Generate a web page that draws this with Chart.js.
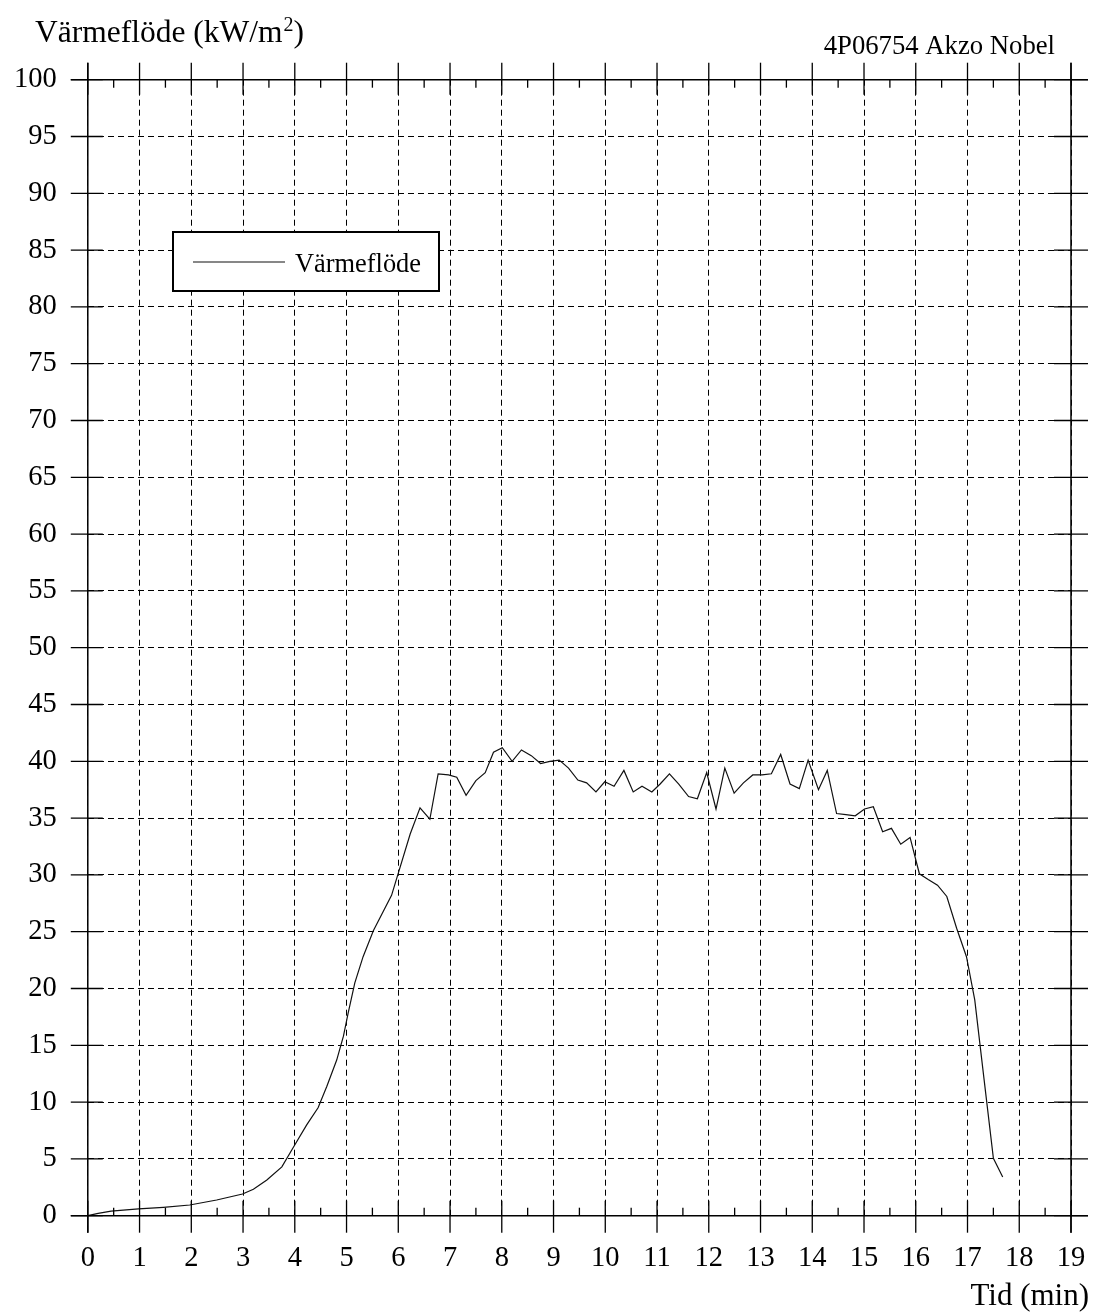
<!DOCTYPE html>
<html>
<head>
<meta charset="utf-8">
<script src="https://cdn.jsdelivr.net/npm/chart.js@4/dist/chart.umd.min.js"></script>
<style>
html,body{margin:0;padding:0;background:#fff;}
#wrap{width:1099px;height:1315px;position:relative;}
canvas{display:block;}
</style>
</head>
<body>
<div id="wrap"><canvas id="c" width="1099" height="1315"></canvas></div>
<script>
// ---- data ----
const times = [0.00, 0.20, 0.45, 0.98, 1.46, 1.97, 2.49, 2.99, 3.20, 3.46, 3.75, 3.97, 4.23, 4.45, 4.62, 4.81, 4.94, 5.03, 5.16, 5.32, 5.52, 5.87,
  6.23, 6.42, 6.61, 6.77, 6.97, 7.13, 7.31, 7.50, 7.68, 7.84, 8.01, 8.20, 8.38, 8.57, 8.75, 8.93, 9.11, 9.29, 9.47, 9.64, 9.82, 9.99,
  10.17, 10.36, 10.54, 10.71, 10.90, 11.06, 11.24, 11.42, 11.61, 11.78, 11.96, 12.14, 12.31, 12.49, 12.67, 12.85, 13.03, 13.21, 13.39,
  13.57, 13.75, 13.92, 14.12, 14.29, 14.47, 14.65, 14.83, 15.01, 15.18, 15.36, 15.53, 15.71, 15.89, 16.07, 16.24, 16.42, 16.60, 16.79,
  16.98, 17.14, 17.32, 17.50, 17.68];
const values = [0.0, 0.2, 0.4, 0.6, 0.74, 0.94, 1.38, 1.91, 2.32, 3.14, 4.3, 6.0, 8.0, 9.5, 11.4, 13.7, 15.8, 17.8, 20.5, 22.8, 25.1, 28.2,
  33.6, 35.9, 34.9, 38.9, 38.8, 38.6, 37.0, 38.3, 39.0, 40.8, 41.2, 40.0, 41.0, 40.5, 39.8, 40.0, 40.1, 39.4, 38.35, 38.1, 37.3, 38.2,
  37.8, 39.2, 37.3, 37.8, 37.3, 38.0, 38.9, 38.0, 36.9, 36.7, 39.0, 35.8, 39.4, 37.2, 38.1, 38.8, 38.8, 38.9, 40.6,
  38.0, 37.6, 40.1, 37.5, 39.2, 35.4, 35.3, 35.2, 35.8, 36.0, 33.8, 34.1, 32.7, 33.3, 30.1, 29.6, 29.1, 28.1, 25.3,
  22.8, 19.0, 12.0, 5.05, 3.4];
const xTickValues = [0,1,2,3,4,5,6,7,8,9,10,11,12,13,14,15,16,17,18,19];
const yTickValues = [0,5,10,15,20,25,30,35,40,45,50,55,60,65,70,75,80,85,90,95,100];
const seriesLabel = 'Värmeflöde';
const yTitleText = 'Värmeflöde (kW/m';
const yTitleSup = '2';
const yTitleEnd = ')';
const xTitleText = 'Tid (min)';
const idText = '4P06754 Akzo Nobel';

const SERIF = '"Liberation Serif", "Times New Roman", serif';

const decor = {
  id: 'decor',
  afterDraw(chart) {
    const ctx = chart.ctx;
    const xs = chart.scales.x, ys = chart.scales.y;
    const {left, right, top, bottom} = chart.chartArea;
    const seg = (x1, y1, x2, y2) => { ctx.beginPath(); ctx.moveTo(x1, y1); ctx.lineTo(x2, y2); ctx.stroke(); };
    ctx.save();
    ctx.strokeStyle = '#000';
    ctx.setLineDash([]);
    ctx.lineWidth = 1.5;
    // frame
    seg(left, top - 17, left, bottom + 17);
    seg(right, top - 17, right, bottom + 17);
    seg(left - 17, top, right + 17, top);
    seg(left - 17, bottom, right + 17, bottom);
    // x ticks
    ctx.lineWidth = 1.3;
    xTickValues.forEach((v, i) => {
      const px = xs.getPixelForValue(v);
      seg(px, bottom - 15, px, bottom + 17);
      seg(px, top - 17, px, top + 15);
      if (i < xTickValues.length - 1) {
        const pm = xs.getPixelForValue((v + xTickValues[i + 1]) / 2);
        seg(pm, bottom - 8, pm, bottom);
        seg(pm, top, pm, top + 8);
      }
    });
    // y ticks
    yTickValues.forEach(v => {
      const py = ys.getPixelForValue(v);
      seg(left - 17, py, left + 15, py);
      seg(right - 17, py, right + 17, py);
    });
    // titles
    ctx.fillStyle = '#000';
    ctx.textBaseline = 'alphabetic';
    ctx.textAlign = 'left';
    ctx.font = '31.5px ' + SERIF;
    ctx.fillText(yTitleText, 35, 42);
    let w = ctx.measureText(yTitleText).width;
    ctx.font = '20px ' + SERIF;
    ctx.fillText(yTitleSup, 35 + w + 1, 31);
    const w2 = ctx.measureText(yTitleSup).width;
    ctx.font = '31.5px ' + SERIF;
    ctx.fillText(yTitleEnd, 35 + w + w2 + 1, 42);

    ctx.font = '26.7px ' + SERIF;
    ctx.textAlign = 'right';
    ctx.fillText(idText, 1055, 54);
    ctx.font = '31px ' + SERIF;
    ctx.fillText(xTitleText, 1089, 1305);

    // legend
    const lx = 173, ly = 232, lw = 266, lh = 59;
    ctx.fillStyle = '#fff';
    ctx.fillRect(lx, ly, lw, lh);
    ctx.lineWidth = 2;
    ctx.strokeRect(lx, ly, lw, lh);
    const ds = chart.data.datasets[0];
    ctx.strokeStyle = ds.borderColor;
    ctx.lineWidth = 1.2;
    seg(193, 262, 285, 262);
    ctx.fillStyle = '#000';
    ctx.textAlign = 'left';
    ctx.font = '26.4px ' + SERIF;
    ctx.fillText(ds.label, 295, 272);
    ctx.restore();
  }
};

new Chart(document.getElementById('c'), {
  type: 'line',
  data: {
    datasets: [{
      label: seriesLabel,
      data: times.map((t, i) => ({x: t, y: values[i]})),
      borderColor: '#111',
      borderWidth: 1.2,
      pointRadius: 0,
      tension: 0,
      fill: false
    }]
  },
  options: {
    responsive: false,
    animation: false,
    devicePixelRatio: 1,
    layout: { padding: { top: 79.7, right: 28, left: 0, bottom: 0 } },
    plugins: { legend: { display: false }, tooltip: { enabled: false }, title: { display: false } },
    scales: {
      x: {
        type: 'linear', min: 0, max: 19,
        afterFit(s) { s.height = 1315 - 1215.7; s.paddingLeft = 0; s.paddingRight = 0; },
        afterBuildTicks(s) { s.ticks = xTickValues.map(v => ({value: v})); },
        ticks: { stepSize: 1, autoSkip: false, maxRotation: 0, padding: 26, color: '#000',
                 font: { family: SERIF, size: 28.5 } },
        grid: { color: '#000', lineWidth: 1, drawTicks: false },
        border: { display: false, dash: [6, 4] }
      },
      y: {
        type: 'linear', min: 0, max: 100,
        afterFit(s) { s.width = 87.8; s.paddingTop = 0; s.paddingBottom = 0; },
        afterBuildTicks(s) { s.ticks = yTickValues.map(v => ({value: v})); },
        ticks: { stepSize: 5, autoSkip: false, padding: 31, color: '#000',
                 font: { family: SERIF, size: 28.5 } },
        grid: { color: '#000', lineWidth: 1, drawTicks: false },
        border: { display: false, dash: [6, 4] }
      }
    }
  },
  plugins: [decor]
});
</script>
</body>
</html>
